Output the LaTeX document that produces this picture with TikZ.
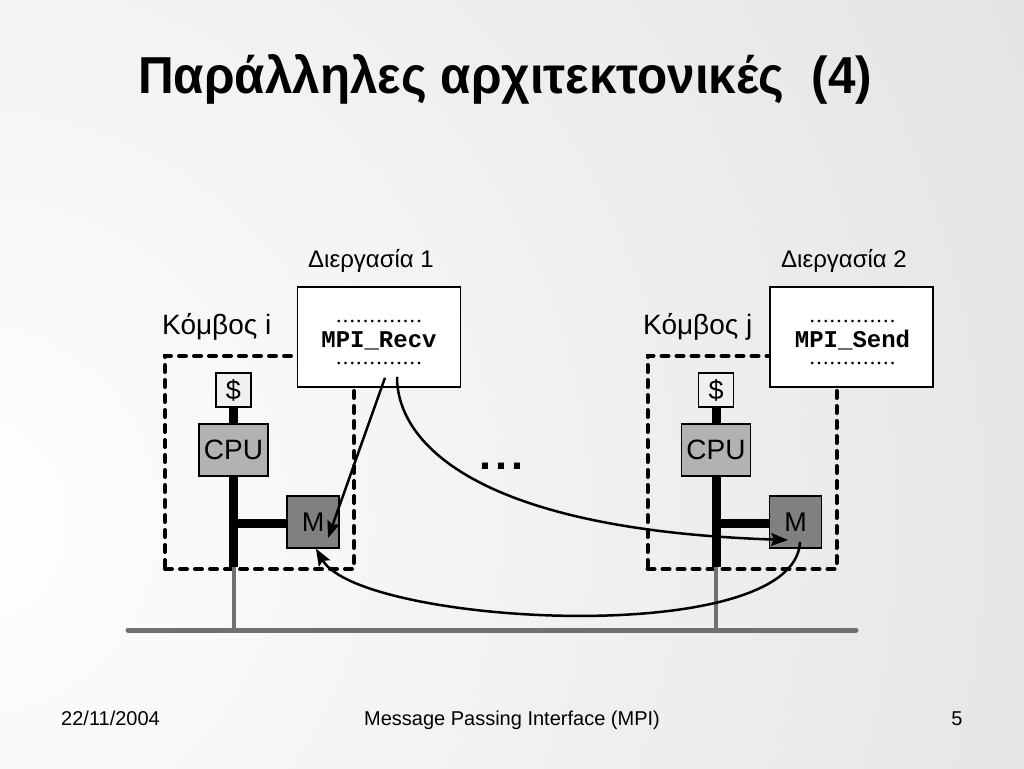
\documentclass[tikz,border=0pt]{standalone}
\usepackage{fontspec}
\usepackage{graphicx}
\setmainfont{Liberation Sans}
\newfontfamily\codefont{Liberation Mono}
\newfontfamily\dotfont{Liberation Serif}
\usetikzlibrary{arrows.meta,calc}
\definecolor{bgout}{gray}{0.78}
\definecolor{cpufill}{gray}{0.70}
\definecolor{memfill}{gray}{0.50}
\definecolor{cachefill}{gray}{0.94}
\definecolor{netgray}{gray}{0.44}
\pgfdeclareradialshading{bgshade}{\pgfpoint{0bp}{0bp}}{color(0bp)=(white); color(50bp)=(bgout)}
\newcommand\dr{.\kern1.17pt}
\newcommand\dotline{\dr\dr\dr\dr\dr\dr\dr\dr\dr\dr\dr\dr.}
\tikzset{
  lbl/.style={inner sep=0pt, anchor=base},
  procbox/.style={draw, fill=white, line width=1.5pt, minimum width=163pt, minimum height=100pt, inner sep=0pt},
  cachebox/.style={draw, fill=cachefill, line width=1.3pt, minimum width=35pt, minimum height=34pt, inner sep=0pt, font=\fontsize{27}{30}\selectfont},
  cpubox/.style={draw, fill=cpufill, line width=1.3pt, minimum width=69pt, minimum height=52pt, inner sep=0pt, font=\fontsize{28}{30}\selectfont},
  membox/.style={draw, fill=memfill, line width=1.3pt, minimum width=52pt, minimum height=52pt, inner sep=0pt, font=\fontsize{27}{30}\selectfont},
  dashbox/.style={draw, line width=4pt, line cap=round, dash pattern=on 7pt off 8pt, minimum width=189pt, minimum height=213pt, inner sep=0pt},
  bus/.style={line width=9pt, black},
  wire/.style={line width=4pt, netgray},
  netline/.style={line width=5pt, netgray, line cap=round},
  msg/.style={line width=2.5pt, -{Stealth[length=17pt, width=13pt, inset=3pt]}},
  codetxt/.style={lbl, font=\codefont\bfseries\fontsize{24}{26}\selectfont},
  dottxt/.style={lbl, font=\dotfont\fontsize{22}{24}\selectfont},
}
\begin{document}
\begin{tikzpicture}[x=1pt, y=-1pt]
\useasboundingbox (0,0) rectangle (1024,768);
\begin{scope}
  \clip (0,0) rectangle (1024,768);
  \shade[shading=bgshade] (-40,520) circle (1220pt);
\end{scope}

% title and footer
\node[lbl, anchor=base west, font=\bfseries\fontsize{52}{60}\selectfont] (title) at (138,93) {\scalebox{0.95}[1]{Παράλληλες αρχιτεκτονικές\ \ (4)}};
\node[lbl, anchor=base west, font=\fontsize{20}{24}\selectfont] (date) at (61,725) {22/11/2004};
\node[lbl, font=\fontsize{20}{24}\selectfont] (foot) at (512,725) {Message Passing Interface (MPI)};
\node[lbl, font=\fontsize{20}{24}\selectfont] (page) at (957,725) {5};

% network
\coordinate (nl) at (128,630);
\coordinate (nr) at (856,630);
\draw[netline] (nl) -- (nr);

% node i
\node[dashbox] (k1) at (259.5,462.5) {};
\coordinate (b1) at (233.5,567);
\node[cachebox] (c1) at (233.5,390) {\$};
\node[cpubox] (u1) at (233.5,450) {CPU};
\node[membox] (m1) at (313,522) {M};
\draw[wire] (b1) -- (b1 |- nl);
\draw[bus] (c1.south) -- (u1.north);
\draw[bus] (u1.south) -- (b1);
\draw[bus] (u1.south |- m1.center) ++(0,1.5) -- ([yshift=-1.5pt]m1.west);
\node[cachebox] at (c1) {\$};
\node[cpubox] at (u1) {CPU};
\node[membox] at (m1) {M};

% node j
\node[dashbox] (k2) at (742,462.5) {};
\coordinate (b2) at (716,567);
\node[cachebox] (c2) at (716,390) {\$};
\node[cpubox] (u2) at (716,450) {CPU};
\node[membox] (m2) at (795.5,522) {M};
\draw[wire] (b2) -- (b2 |- nl);
\draw[bus] (c2.south) -- (u2.north);
\draw[bus] (u2.south) -- (b2);
\draw[bus] (u2.south |- m2.center) ++(0,1.5) -- ([yshift=-1.5pt]m2.west);
\node[cachebox] at (c2) {\$};
\node[cpubox] at (u2) {CPU};
\node[membox] at (m2) {M};

% labels
\node[lbl, anchor=base west, font=\fontsize{28}{32}\selectfont] (ki) at (162,334) {Κόμβος i};
\node[lbl, anchor=base west, font=\fontsize{28}{32}\selectfont] (kj) at (643,334) {Κόμβος j};
\node[lbl, font=\fontsize{24}{28}\selectfont] (d1) at (371,267) {Διεργασία 1};
\node[lbl, font=\fontsize{24}{28}\selectfont] (d2) at (844,267) {Διεργασία 2};

% process boxes
\node[procbox] (p1) at (379,337) {};
\node[dottxt] at ($(p1.center)+(0,-15)$) {\dotline};
\node[codetxt] at ($(p1.center)+(0,10)$) {MPI\_Recv};
\node[dottxt] at ($(p1.center)+(0,27)$) {\dotline};

\node[procbox] (p2) at (851.5,337) {};
\node[dottxt] at ($(p2.center)+(1,-15)$) {\dotline};
\node[codetxt] at ($(p2.center)+(1,10)$) {MPI\_Send};
\node[dottxt] at ($(p2.center)+(1,27)$) {\dotline};

% ellipsis
\node[lbl, font=\bfseries\fontsize{43}{46}\selectfont] (dots) at (501.5,469) {.\kern4.5pt.\kern4.5pt.};

% messages
\coordinate (a1s) at ($(p1.south)+(6,-10)$);
\coordinate (a1e) at ($(m1.center)+(15,16)$);
\coordinate (a2s) at ($(p1.south)+(18,-11)$);
\coordinate (a2e) at ($(m2.center)+(-7.5,18)$);
\coordinate (a3s) at ($(m2.center)+(4.5,20)$);
\coordinate (a3e) at ($(m1.south)+(3,0)$);
\draw[msg] (a1s) -- (a1e);
\draw[msg] (a2s) .. controls (397,445) and (480,530) .. (a2e);
\draw[msg] (a3s) .. controls (795,650) and (360,625) .. (a3e);
\end{tikzpicture}
\end{document}
